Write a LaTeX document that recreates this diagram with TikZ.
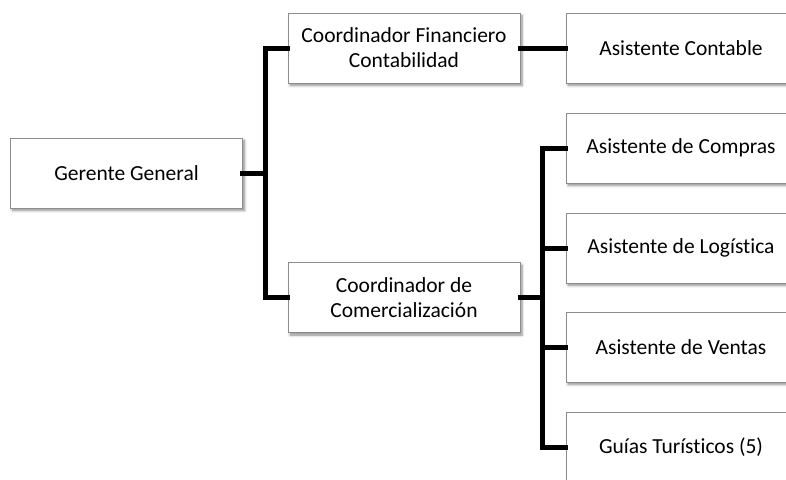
\documentclass[tikz,border=0pt]{standalone}
\usepackage{fontspec}
\setmainfont{Carlito}[Ligatures={NoCommon,NoContextual,NoRare}]
\usetikzlibrary{shadows.blur}
\begin{document}
\begin{tikzpicture}[x=1pt,y=-1pt,
  box/.style={draw=black!45, line width=0.8pt, fill=white, rectangle,
    minimum height=70pt, inner sep=0pt, align=center,
    font=\fontsize{21.5}{25}\selectfont,
    blur shadow={shadow xshift=2pt, shadow yshift=-2.5pt, shadow blur steps=6,
      shadow blur radius=2.5pt, shadow opacity=45}},
  mid/.style={box, minimum width=232pt},
  leaf/.style={box, minimum width=230pt},
  conn/.style={line width=5pt, line cap=rect, line join=miter}]
\useasboundingbox (0,0) rectangle (786,479);
\begin{scope}
\clip (0,0) rectangle (786,479);
% boxes
\node[mid] (gg) at (126.5,173) {Gerente General};
\node[mid] (cf) at (404,48) {Coordinador Financiero\\Contabilidad};
\node[mid] (cc) at (404,297.5) {Coordinador de\\Comercialización};
\node[leaf] (ac) at (681,48) {Asistente Contable};
\node[leaf] (r1) at (681,148) {Asistente de Compras};
\node[leaf] (r2) at (681,248) {Asistente de Logística};
\node[leaf] (r3) at (681,347) {Asistente de Ventas};
\node[leaf] (r4) at (681,447) {Guías Turísticos (5)};
% connectors
\draw[conn] (gg.east) -- ++(23,0) coordinate (j1);
\draw[conn] (cf.west) -| (j1) |- (cc.west);
\draw[conn] (cf.east) -- (ac.west);
\draw[conn] (cc.east) -- ++(22,0) coordinate (j2);
\draw[conn] (r1.west) -| (j2) |- (r4.west);
\draw[conn] (j2 |- r2.west) -- (r2.west);
\draw[conn] (j2 |- r3.west) -- (r3.west);
\end{scope}
\end{tikzpicture}
\end{document}
